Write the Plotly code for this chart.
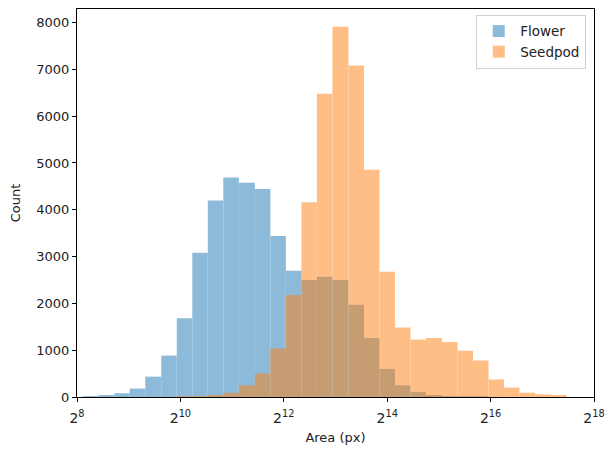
import plotly.graph_objects as go

# Bin edges expressed as log2(area)
bin_edges_log2 = [8.12, 8.42, 8.72, 9.02, 9.32, 9.63, 9.93, 10.23, 10.53, 10.83,
                  11.13, 11.44, 11.74, 12.04, 12.34, 12.64, 12.94, 13.25, 13.55, 13.85,
                  14.15, 14.45, 14.75, 15.06, 15.36, 15.66, 15.96, 16.26, 16.56, 16.86,
                  17.17, 17.47]

flower_counts = [20, 25, 80, 180, 435, 885, 1685, 3080, 4200, 4690,
                 4580, 4445, 3440, 2695, 2500, 2570, 2500, 1970, 1260, 600,
                 250, 105, 30, 10, 4, 2, 0, 0, 0, 0, 0]

seedpod_counts = [0, 0, 0, 0, 0, 0, 2, 8, 30, 90,
                  250, 500, 1035, 2180, 4160, 6480, 7910, 7085, 4855, 2675,
                  1485, 1225, 1260, 1175, 990, 780, 375, 200, 93, 57, 36]

x_tick_exponents = [8, 10, 12, 14, 16, 18]
y_tick_values = [0, 1000, 2000, 3000, 4000, 5000, 6000, 7000, 8000]

centers = [(a + b) / 2 for a, b in zip(bin_edges_log2[:-1], bin_edges_log2[1:])]
widths = [b - a for a, b in zip(bin_edges_log2[:-1], bin_edges_log2[1:])]

fig = go.Figure()
fig.add_trace(go.Bar(x=centers, y=flower_counts, width=widths, name="Flower",
                     marker=dict(color="#1f77b4", line=dict(width=0)), opacity=0.5))
fig.add_trace(go.Bar(x=centers, y=seedpod_counts, width=widths, name="Seedpod",
                     marker=dict(color="#ff7f0e", line=dict(width=0)), opacity=0.5))

font = "DejaVu Sans, Liberation Sans, sans-serif"
fig.update_layout(
    width=613, height=452,
    margin=dict(l=77, r=13, t=8, b=55),
    barmode="overlay",
    plot_bgcolor="white", paper_bgcolor="white",
    font=dict(family=font, size=13, color="#222"),
    showlegend=True,
    legend=dict(x=0.985, y=0.985, xanchor="right", yanchor="top",
                bgcolor="white", bordercolor="#d0d0d0", borderwidth=1,
                font=dict(size=13.5), traceorder="normal", itemwidth=33),
)
fig.update_xaxes(
    range=[8, 18], tickvals=x_tick_exponents,
    ticktext=[f"2<sup>{e}</sup>" for e in x_tick_exponents],
    showgrid=False, zeroline=False,
    showline=True, linecolor="black", linewidth=1, mirror=True,
    ticks="outside", ticklen=4, tickcolor="black",
    ticklabelstandoff=4, tickfont=dict(size=14),
    title=dict(text="Area (px)", font=dict(size=13), standoff=8),
)
fig.update_yaxes(
    range=[0, 8290], tickvals=y_tick_values,
    showgrid=False, zeroline=False,
    showline=True, linecolor="black", linewidth=1, mirror=True,
    ticks="outside", ticklen=4, tickcolor="black",
    title=dict(text="Count", font=dict(size=13), standoff=12),
)

fig.write_html("out.html")
